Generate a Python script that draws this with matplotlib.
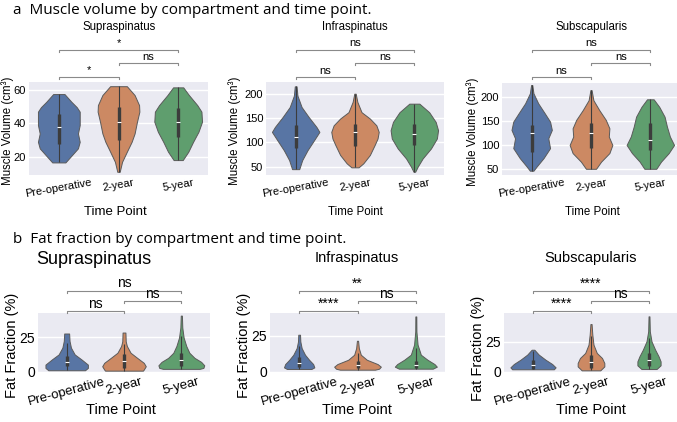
# -*- coding: utf-8 -*-
"""Muscle volume / fat fraction violins per compartment and time point (two rows of three)."""

import matplotlib
matplotlib.use("Agg")
import matplotlib.pyplot as plt
import matplotlib.transforms as mtransforms
import numpy as np

W, H = 677, 422
TIME_POINTS = ["Pre-operative", "2-year", "5-year"]
# seaborn "deep" at saturation 0.75 (violinplot default)
COLORS = ["#5875A4", "#CC8963", "#5F9E6E"]
EDGE = "#5a5a5a"
BOX = "#3c3c3c"
BG = "#EAEAF2"

# Violin outlines: value levels and half-width (x units) at each level,
# one list per time point. Boxes are (q1, median, q3, whisker_low, whisker_high).
VOL_SUPRA_LEVELS = [
    [16.5, 20.9, 24.9, 28.8, 33.8, 38.8, 46.8, 49.5, 52.7, 57.3],
    [10.9, 16.9, 22.9, 28.8, 33.8, 40.8, 46.8, 50.7, 56.7, 62.0],
    [17.9, 22.9, 28.8, 34.8, 40.8, 46.8, 50.7, 56.7, 61.3],
]
VOL_SUPRA_WIDTHS = [
    [0.11, 0.22, 0.32, 0.35, 0.32, 0.35, 0.35, 0.30, 0.21, 0.095],
    [0.02, 0.06, 0.14, 0.22, 0.27, 0.31, 0.35, 0.345, 0.27, 0.14],
    [0.076, 0.17, 0.25, 0.34, 0.40, 0.39, 0.32, 0.18, 0.085],
]
VOL_SUPRA_BOX = [(27.5, 37.4, 45.2, 16.5, 57.3), (29.9, 40.8, 49.7, 10.9, 62.0), (31.8, 40.8, 48.8, 17.9, 61.3)]

VOL_INFRA_LEVELS = [
    [45, 63.6, 84, 104.5, 121.5, 131.7, 152, 172.6, 196, 215],
    [48.7, 57, 74, 94.3, 108, 121.5, 135, 149, 162, 183, 200],
    [39.7, 50, 67, 87.5, 108, 125, 142, 162, 179.5],
]
VOL_INFRA_WIDTHS = [
    [0.06, 0.11, 0.20, 0.31, 0.40, 0.35, 0.22, 0.10, 0.03, 0.015],
    [0.06, 0.14, 0.25, 0.33, 0.38, 0.40, 0.36, 0.25, 0.11, 0.04, 0.012],
    [0.014, 0.056, 0.14, 0.28, 0.38, 0.40, 0.36, 0.25, 0.085],
]
VOL_INFRA_BOX = [(87.5, 111, 135.2, 45, 215), (93, 121.5, 138.6, 48.7, 200), (94.3, 118, 138.6, 39.7, 179.5)]

VOL_SUBSC_LEVELS = [
    [46, 55, 72.4, 93.3, 114, 131.6, 149, 166.5, 187.4, 208.4, 225.7],
    [50, 65, 83, 100, 117.6, 135, 152.5, 173, 194, 215],
    [50, 65, 83, 100, 117.6, 138.5, 159.4, 180, 195.8],
]
VOL_SUBSC_WIDTHS = [
    [0.03, 0.085, 0.20, 0.31, 0.28, 0.34, 0.31, 0.22, 0.11, 0.03, 0.01],
    [0.085, 0.17, 0.31, 0.36, 0.30, 0.31, 0.25, 0.14, 0.04, 0.01],
    [0.10, 0.18, 0.31, 0.40, 0.33, 0.28, 0.24, 0.15, 0.056],
]
VOL_SUBSC_BOX = [(86, 124.7, 142, 46, 225.7), (93.3, 124.7, 145.6, 50, 215), (89.7, 110.7, 145.6, 50, 195.8)]

FAT_SUPRA_LEVELS = [
    [1.0, 2.7, 5.1, 8.8, 12.5, 17.4, 22.3, 27.7],
    [0.7, 1.5, 3.9, 6.4, 10, 13.7, 18.6, 22, 28.4],
    [2.0, 2.7, 4.6, 7.1, 10, 13.7, 18.6, 24.8, 32, 40.7],
]
FAT_SUPRA_WIDTHS = [
    [0.32, 0.37, 0.37, 0.26, 0.14, 0.075, 0.05, 0.043],
    [0.33, 0.345, 0.38, 0.345, 0.23, 0.115, 0.05, 0.03, 0.025],
    [0.32, 0.385, 0.40, 0.345, 0.23, 0.14, 0.086, 0.04, 0.017, 0.01],
]
FAT_SUPRA_BOX = [(3.9, 7.1, 11.3, 1.0, 21), (2.7, 7.6, 12.5, 0.7, 19.9), (3.9, 8.8, 13.7, 2.0, 26)]

FAT_INFRA_LEVELS = [
    [1.9, 3.0, 5.3, 8.3, 11.8, 16.4, 21, 25.7],
    [1.4, 2.1, 3.5, 5.3, 8.3, 11.8, 16.4, 21.5],
    [2.1, 3.5, 5.3, 8.3, 11.8, 18.8, 28, 38.4],
]
FAT_INFRA_WIDTHS = [
    [0.21, 0.26, 0.24, 0.17, 0.10, 0.043, 0.02, 0.015],
    [0.30, 0.37, 0.40, 0.345, 0.16, 0.057, 0.023, 0.01],
    [0.29, 0.36, 0.32, 0.20, 0.086, 0.03, 0.01, 0.008],
]
FAT_INFRA_BOX = [(3.0, 6.0, 9.9, 1.9, 17.6), (2.6, 4.4, 7.2, 1.4, 13), (2.3, 4.4, 7.2, 2.1, 16.4)]

FAT_SUBSC_LEVELS = [
    [2.0, 3.6, 6.4, 10, 14.2, 18.3],
    [1.1, 4.4, 7.2, 11.4, 15.6, 22.5, 30.8, 39.7],
    [2.2, 5.3, 8.6, 12.8, 18.3, 25.3, 33.6, 46.1],
]
FAT_SUBSC_WIDTHS = [
    [0.36, 0.39, 0.33, 0.215, 0.10, 0.023],
    [0.16, 0.23, 0.23, 0.19, 0.10, 0.043, 0.023, 0.01],
    [0.13, 0.20, 0.20, 0.165, 0.106, 0.043, 0.014, 0.008],
]
FAT_SUBSC_BOX = [(2.5, 5.3, 10, 2.0, 17), (3.1, 8.1, 14.2, 1.1, 29.4), (4.4, 10, 15.6, 2.2, 28)]

# significance labels for the pairs (0,1), (1,2), (0,2)
PAIRS = [(0, 1), (1, 2), (0, 2)]
VOL_SIG = {"Supraspinatus": ["*", "ns", "*"], "Infraspinatus": ["ns", "ns", "ns"], "Subscapularis": ["ns", "ns", "ns"]}
FAT_SIG = {"Supraspinatus": ["ns", "ns", "ns"], "Infraspinatus": ["****", "ns", "**"], "Subscapularis": ["****", "ns", "****"]}

plt.rcParams["font.family"] = ["Liberation Sans", "DejaVu Sans"]


def add_axes_px(fig, left, top, right, bottom):
    ax = fig.add_axes([left / W, 1 - bottom / H, (right - left) / W, (bottom - top) / H])
    ax.set_facecolor(BG)
    for spine in ax.spines.values():
        spine.set_visible(False)
    ax.yaxis.grid(True, color="white", linewidth=1.0)
    ax.set_axisbelow(True)
    ax.tick_params(length=0, pad=2)
    ax.set_xlim(-0.5, 2.5)
    return ax


def draw_violins(ax, levels, widths, boxes):
    stats = [dict(coords=np.array(lv), vals=np.array(hw), mean=np.nan, median=np.nan, min=lv[0], max=lv[-1])
             for lv, hw in zip(levels, widths)]
    parts = ax.violin(stats, positions=range(3), widths=[2 * max(hw) for hw in widths], showextrema=False)
    for body, color in zip(parts["bodies"], COLORS):
        body.set_facecolor(color)
        body.set_edgecolor(EDGE)
        body.set_alpha(1)
        body.set_linewidth(0.7)
        body.set_zorder(2)
    for i, (q1, med, q3, lo, hi) in enumerate(boxes):
        ax.vlines(i, lo, hi, color=BOX, linewidth=0.8, zorder=3)
        ax.vlines(i, q1, q3, color=BOX, linewidth=2.4, zorder=3)
        ax.plot(i, med, marker="_", color="white", markersize=2.6, markeredgewidth=0.8, zorder=4)


def draw_brackets(fig, ax, rect, line_px, labels, fontsize):
    left, top, right, bottom = rect
    trans = mtransforms.blended_transform_factory(ax.transData, ax.transAxes)
    for (i, j), y_px, label in zip(PAIRS, line_px, labels):
        y = (bottom - y_px) / (bottom - top)
        tick = 2.0 / (bottom - top)
        ax.plot([i, i, j, j], [y - tick, y, y, y - tick], color="#8a8a8a", linewidth=0.8,
                transform=trans, clip_on=False)
        ax.text((i + j) / 2, (bottom - y_px + 3.5) / (bottom - top), label, transform=trans,
                ha="center", va="baseline", fontsize=fontsize)


fig = plt.figure(figsize=(W / 100, H / 100), dpi=100)

# --- row a: muscle volume ---
fig.text(13 / W, 1 - 14 / H, "a  Muscle volume by compartment and time point.", fontsize=11,
         family=["Open Sans", "DejaVu Sans"], va="baseline")
vol_rects = [(29, 82, 208, 175), (266, 82, 444, 175), (502, 83, 680, 175)]
vol_data = [
    ("Supraspinatus", VOL_SUPRA_LEVELS, VOL_SUPRA_WIDTHS, VOL_SUPRA_BOX, (9, 64.5), [20, 40, 60]),
    ("Infraspinatus", VOL_INFRA_LEVELS, VOL_INFRA_WIDTHS, VOL_INFRA_BOX, (33, 224), [50, 100, 150, 200]),
    ("Subscapularis", VOL_SUBSC_LEVELS, VOL_SUBSC_WIDTHS, VOL_SUBSC_BOX, (37, 230), [50, 100, 150, 200]),
]
vol_title_px = [(119, 27), (355, 27), (592, 27)]
vol_ylabel_px = [(8, 131), (235, 131), (473, 132)]
vol_xlabel_px = [(115, 212, 9.5), (355, 212, 8.3), (592, 212, 8.3)]
for rect, (name, lv, wd, bx, ylim, yticks), tpx, ypx, xpx in zip(vol_rects, vol_data, vol_title_px,
                                                                vol_ylabel_px, vol_xlabel_px):
    ax = add_axes_px(fig, *rect)
    draw_violins(ax, lv, wd, bx)
    ax.set_ylim(*ylim)
    ax.set_yticks(yticks)
    ax.tick_params(axis="y", labelsize=8)
    ax.set_xticks(range(3), TIME_POINTS, rotation=10, fontsize=8)
    draw_brackets(fig, ax, rect, [77, 63, 50], VOL_SIG[name], 8)
    fig.text(tpx[0] / W, 1 - tpx[1] / H, name, fontsize=8.3, ha="center", va="center")
    fig.text(ypx[0] / W, 1 - ypx[1] / H, "Muscle Volume (cm³)", fontsize=8.3, rotation=90,
             ha="center", va="center")
    fig.text(xpx[0] / W, 1 - xpx[1] / H, "Time Point", fontsize=xpx[2], ha="center", va="center")

# --- row b: fat fraction ---
fig.text(13 / W, 1 - 243 / H, "b  Fat fraction by compartment and time point.", fontsize=11,
         family=["Open Sans", "DejaVu Sans"], va="baseline")
fat_rects = [(38, 313, 210, 373), (270, 313, 445, 373), (504, 313, 678, 373)]
fat_data = [
    ("Supraspinatus", FAT_SUPRA_LEVELS, FAT_SUPRA_WIDTHS, FAT_SUPRA_BOX, (-1.0, 42.6)),
    ("Infraspinatus", FAT_INFRA_LEVELS, FAT_INFRA_WIDTHS, FAT_INFRA_BOX, (-0.9, 40.8)),
    ("Subscapularis", FAT_SUBSC_LEVELS, FAT_SUBSC_WIDTHS, FAT_SUBSC_BOX, (-1.1, 48.9)),
]
fat_title_px = [(94, 259, 13), (357, 258, 10.5), (591, 258, 10.5)]
fat_ylabel_px = [(12, 345), (244, 345), (478, 348)]
fat_xlabel_px = [(121, 410), (357, 410), (591, 410)]
for rect, (name, lv, wd, bx, ylim), tpx, ypx, xpx in zip(fat_rects, fat_data, fat_title_px,
                                                        fat_ylabel_px, fat_xlabel_px):
    ax = add_axes_px(fig, *rect)
    draw_violins(ax, lv, wd, bx)
    ax.set_ylim(*ylim)
    ax.set_yticks([0, 25])
    ax.tick_params(axis="y", labelsize=10)
    ax.set_xticks(range(3), TIME_POINTS, rotation=15, fontsize=9.5)
    draw_brackets(fig, ax, rect, [311, 301, 291], FAT_SIG[name], 10)
    fig.text(tpx[0] / W, 1 - tpx[1] / H, name, fontsize=tpx[2], ha="center", va="center")
    fig.text(ypx[0] / W, 1 - ypx[1] / H, "Fat Fraction (%)", fontsize=10.5, rotation=90,
             ha="center", va="center")
    fig.text(xpx[0] / W, 1 - xpx[1] / H, "Time Point", fontsize=10.5, ha="center", va="center")

fig.savefig("out.png", dpi=100)
